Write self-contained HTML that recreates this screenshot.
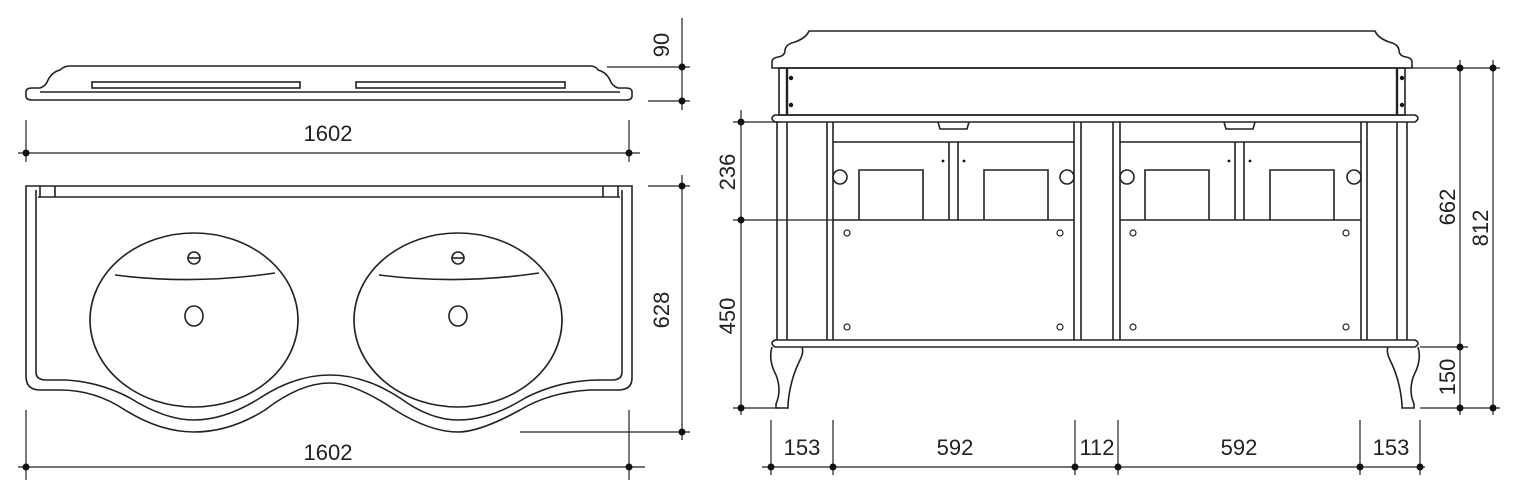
<!DOCTYPE html>
<html><head><meta charset="utf-8"><style>
html,body{margin:0;padding:0;background:#fff;}
svg{display:block;}
text{font-family:"Liberation Sans",Arial,sans-serif;font-size:22px;fill:#222;}
</style></head><body>
<svg width="1513" height="500" viewBox="0 0 1513 500" xmlns="http://www.w3.org/2000/svg">
<g fill="none" stroke="#222" stroke-width="1.6">
<!-- top profile -->
<path d="M26 92 Q26 88 32 88 L40 88 Q46 86 48 80 Q52 72 60 70 Q64 66 70 66 L590 66 Q596 66 598 70 Q606 72 610 80 Q612 86 618 88 L626 88 Q632 88 632 92 L632 96 Q632 100 626 100 L32 100 Q26 100 26 96 Z"/>
<line x1="40" y1="92" x2="620" y2="92"/>
<rect x="92" y="82" width="208" height="6"/>
<rect x="356" y="82" width="209" height="6"/>
<!-- sink plan -->
<path d="M26 186 L632 186 L632 378 Q632 390 618 390 L590 390 Q550 392 520 410 Q480 432 458 432 Q430 432 395 410 Q355 383 330 383 Q300 383 265 410 Q230 432 194 432 Q160 432 125 410 Q95 390 60 390 L40 390 Q26 390 26 376 Z"/>
<path d="M36 190 L36 372 Q36 380 46 380 L66 380 Q100 382 130 398 Q165 420 194 420 Q225 420 260 398 Q295 375 330 375 Q365 375 400 398 Q430 420 458 420 Q490 420 525 398 Q560 380 600 380 L612 380 Q622 380 622 372 L622 190"/>
<line x1="38" y1="197" x2="620" y2="197"/>
<line x1="40" y1="186" x2="40" y2="197"/><line x1="55" y1="186" x2="55" y2="197"/>
<line x1="603" y1="186" x2="603" y2="197"/><line x1="618" y1="186" x2="618" y2="197"/>
<ellipse cx="194" cy="320" rx="104" ry="87"/>
<ellipse cx="458" cy="320" rx="104" ry="87"/>
<path d="M115 275 Q194 285 275 273"/><path d="M379 275 Q458 285 539 273"/>
<circle cx="194" cy="258" r="6"/><line x1="188" y1="258" x2="200" y2="258"/>
<circle cx="458" cy="258" r="6"/><line x1="452" y1="258" x2="464" y2="258"/>
<ellipse cx="194" cy="316" rx="9" ry="10"/><ellipse cx="458" cy="316" rx="9" ry="10"/>
</g>
<g stroke="#222" stroke-width="1.2">
<line x1="18" y1="153" x2="640" y2="153"/><line x1="26" y1="120" x2="26" y2="162"/><line x1="629" y1="120" x2="629" y2="162"/>
<line x1="682" y1="18" x2="682" y2="110"/><line x1="607" y1="67" x2="690" y2="67"/><line x1="648" y1="101" x2="690" y2="101"/>
<line x1="682" y1="175" x2="682" y2="440"/><line x1="648" y1="186" x2="690" y2="186"/><line x1="520" y1="432" x2="690" y2="432"/>
<line x1="18" y1="467" x2="645" y2="467"/><line x1="26" y1="410" x2="26" y2="480"/><line x1="629" y1="410" x2="629" y2="480"/>
<line x1="741" y1="110" x2="741" y2="415"/><line x1="733" y1="122" x2="780" y2="122"/><line x1="733" y1="220" x2="833" y2="220"/><line x1="733" y1="408" x2="780" y2="408"/>
<line x1="1460" y1="60" x2="1460" y2="415"/><line x1="1493" y1="60" x2="1493" y2="415"/>
<line x1="1405" y1="68" x2="1500" y2="68"/><line x1="1420" y1="347" x2="1468" y2="347"/><line x1="1420" y1="408" x2="1500" y2="408"/>
<line x1="762" y1="467" x2="1425" y2="467"/>
<line x1="771" y1="420" x2="771" y2="475"/><line x1="833" y1="420" x2="833" y2="475"/><line x1="1075" y1="420" x2="1075" y2="475"/><line x1="1118" y1="420" x2="1118" y2="475"/><line x1="1360" y1="420" x2="1360" y2="475"/><line x1="1420" y1="420" x2="1420" y2="475"/>
</g>
<g fill="#111">
<circle cx="26" cy="153" r="3.5"/><circle cx="629" cy="153" r="3.5"/>
<circle cx="682" cy="67" r="3.5"/><circle cx="682" cy="101" r="3.5"/>
<circle cx="682" cy="186" r="3.5"/><circle cx="682" cy="432" r="3.5"/>
<circle cx="26" cy="467" r="3.5"/><circle cx="629" cy="467" r="3.5"/>
<circle cx="741" cy="122" r="3.5"/><circle cx="741" cy="220" r="3.5"/><circle cx="741" cy="408" r="3.5"/>
<circle cx="1460" cy="68" r="3.5"/><circle cx="1460" cy="347" r="3.5"/><circle cx="1460" cy="408" r="3.5"/>
<circle cx="1493" cy="68" r="3.5"/><circle cx="1493" cy="408" r="3.5"/>
<circle cx="771" cy="467" r="3.5"/><circle cx="833" cy="467" r="3.5"/><circle cx="1075" cy="467" r="3.5"/><circle cx="1118" cy="467" r="3.5"/><circle cx="1360" cy="467" r="3.5"/><circle cx="1420" cy="467" r="3.5"/>
<circle cx="791" cy="78" r="2.2"/><circle cx="791" cy="105" r="2.2"/><circle cx="1402" cy="78" r="2.2"/><circle cx="1402" cy="105" r="2.2"/>
<circle cx="943" cy="161" r="1.4"/><circle cx="964" cy="161" r="1.4"/><circle cx="1229" cy="161" r="1.4"/><circle cx="1250" cy="161" r="1.4"/>
</g>
<g fill="none" stroke="#222" stroke-width="1.6">
<path d="M772 68 L772 62 Q772 58 778 57 Q785 56 785 50 Q786 44 795 42 Q806 38 809 31 L1375 31 Q1378 38 1389 42 Q1398 44 1399 50 Q1399 56 1406 57 Q1412 58 1412 62 L1412 68 Z"/>
<rect x="779" y="68" width="626" height="47"/>
<line x1="787" y1="68" x2="787" y2="115" stroke-width="2.4"/><line x1="1397" y1="68" x2="1397" y2="115" stroke-width="2.4"/>
<path d="M775 115 L1415 115 Q1421 118 1415 122 L775 122 Q769 118 775 115 Z"/>
<line x1="777" y1="122" x2="777" y2="340"/><line x1="787" y1="122" x2="787" y2="340"/>
<line x1="827" y1="122" x2="827" y2="340"/><line x1="833" y1="122" x2="833" y2="340"/>
<line x1="1074" y1="122" x2="1074" y2="340"/><line x1="1081" y1="122" x2="1081" y2="340"/>
<line x1="1113" y1="122" x2="1113" y2="340"/><line x1="1120" y1="122" x2="1120" y2="340"/>
<line x1="1361" y1="122" x2="1361" y2="340"/><line x1="1367" y1="122" x2="1367" y2="340"/>
<line x1="1397" y1="122" x2="1397" y2="340"/><line x1="1407" y1="122" x2="1407" y2="340"/>
<line x1="833" y1="142" x2="1074" y2="142"/><line x1="1120" y1="142" x2="1361" y2="142"/>
<line x1="833" y1="220" x2="1074" y2="220"/><line x1="1120" y1="220" x2="1361" y2="220"/>
<path d="M938 122 L940 129 L967 129 L969 122"/><path d="M1224 122 L1226 129 L1253 129 L1255 122"/>
<line x1="949" y1="142" x2="949" y2="220"/><line x1="958" y1="142" x2="958" y2="220"/>
<line x1="1235" y1="142" x2="1235" y2="220"/><line x1="1244" y1="142" x2="1244" y2="220"/>
<path d="M859 220 L859 170 L923 170 L923 220"/><path d="M984 220 L984 170 L1048 170 L1048 220"/>
<path d="M1145 220 L1145 170 L1209 170 L1209 220"/><path d="M1270 220 L1270 170 L1334 170 L1334 220"/>
<circle cx="840" cy="177" r="7"/><circle cx="1067" cy="177" r="7"/><circle cx="1127" cy="177" r="7"/><circle cx="1354" cy="177" r="7"/>
<g stroke-width="1.2">
<circle cx="847" cy="233" r="3"/><circle cx="1060" cy="233" r="3"/><circle cx="847" cy="327" r="3"/><circle cx="1060" cy="327" r="3"/>
<circle cx="1133" cy="233" r="3"/><circle cx="1346" cy="233" r="3"/><circle cx="1133" cy="327" r="3"/><circle cx="1346" cy="327" r="3"/>
</g>
<path d="M775 340 L1415 340 Q1421 343 1415 347 L775 347 Q769 343 775 340 Z"/>
<path d="M772 347 Q768 360 776 375 Q782 390 776 404 L776 408 L788 408 L788 404 Q790 380 800 360 Q804 352 802 347"/>
<path d="M1418 347 Q1422 360 1414 375 Q1408 390 1414 404 L1414 408 L1402 408 L1402 404 Q1400 380 1390 360 Q1386 352 1388 347"/>
</g>
<text x="328" y="141" text-anchor="middle">1602</text>
<text x="328" y="460" text-anchor="middle">1602</text>
<text transform="translate(669,45) rotate(-90)" text-anchor="middle">90</text>
<text transform="translate(669,310) rotate(-90)" text-anchor="middle">628</text>
<text transform="translate(735,172) rotate(-90)" text-anchor="middle">236</text>
<text transform="translate(735,316) rotate(-90)" text-anchor="middle">450</text>
<text transform="translate(1455,207) rotate(-90)" text-anchor="middle">662</text>
<text transform="translate(1488,228) rotate(-90)" text-anchor="middle">812</text>
<text transform="translate(1455,377) rotate(-90)" text-anchor="middle">150</text>
<text x="802" y="455" text-anchor="middle">153</text>
<text x="955" y="455" text-anchor="middle">592</text>
<text x="1097" y="455" text-anchor="middle">112</text>
<text x="1239" y="455" text-anchor="middle">592</text>
<text x="1391" y="455" text-anchor="middle">153</text>
</svg>
</body></html>
